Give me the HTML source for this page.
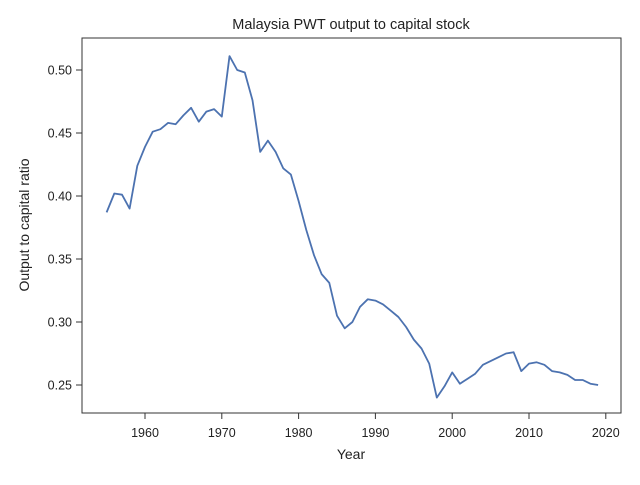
<!DOCTYPE html>
<html><head><meta charset="utf-8"><style>
body{margin:0;background:#fff}
svg text{font-family:"Liberation Sans","DejaVu Sans",sans-serif;fill:#222}
</style></head><body>
<svg id="chart" width="640" height="480" viewBox="0 0 640 480">
<rect width="640" height="480" fill="#fff"/>
<text x="351" y="29" font-size="14.5" text-anchor="middle">Malaysia PWT output to capital stock</text>
<g id="xt"></g><g id="yt"></g>
<path id="line" fill="none" stroke="#4c72b0" stroke-width="1.8" stroke-linejoin="round"/>
<rect x="82" y="38" width="539" height="375" fill="none" stroke="#333" stroke-width="1"/>
<text x="351" y="459" font-size="14" text-anchor="middle">Year</text>
<text transform="translate(29,225) rotate(-90)" font-size="14" text-anchor="middle">Output to capital ratio</text>
</svg>
<script>
const years=[];for(let y=1955;y<=2019;y++)years.push(y);
const values=[0.387,0.402,0.401,0.390,0.424,0.439,0.451,0.453,0.458,0.457,0.464,0.470,0.459,0.467,0.469,0.463,0.511,0.500,0.498,0.476,0.435,0.444,0.435,0.422,0.417,0.396,0.373,0.353,0.338,0.331,0.305,0.295,0.300,0.312,0.318,0.317,0.314,0.309,0.304,0.296,0.286,0.279,0.267,0.240,0.249,0.260,0.251,0.255,0.259,0.266,0.269,0.272,0.275,0.276,0.261,0.267,0.268,0.266,0.261,0.260,0.258,0.254,0.254,0.251,0.250];
const xTicks=[1960,1970,1980,1990,2000,2010,2020];
const yTicks=[0.25,0.30,0.35,0.40,0.45,0.50];
const xs=v=>145+(v-1960)*7.68;
const ys=v=>70+(0.5-v)*1260;
const NS='http://www.w3.org/2000/svg';
let d='';values.forEach((v,i)=>{d+=(i?'L':'M')+xs(years[i]).toFixed(1)+','+ys(v).toFixed(1);});
document.getElementById('line').setAttribute('d',d);
const xt=document.getElementById('xt'),yt=document.getElementById('yt');
xTicks.forEach(t=>{
 const l=document.createElementNS(NS,'line');
 l.setAttribute('x1',xs(t));l.setAttribute('x2',xs(t));l.setAttribute('y1',413);l.setAttribute('y2',419);l.setAttribute('stroke','#333');
 
 
 xt.appendChild(l);
 const s=document.createElementNS(NS,'text');
 s.setAttribute('x',xs(t));s.setAttribute('y',437);s.setAttribute('font-size','12.5');s.setAttribute('text-anchor','middle');s.textContent=t;
 
 
 xt.appendChild(s);
});
yTicks.forEach(t=>{
 const l=document.createElementNS(NS,'line');
 l.setAttribute('x1',76);l.setAttribute('x2',82);l.setAttribute('y1',ys(t));l.setAttribute('y2',ys(t));l.setAttribute('stroke','#333');
 
 
 yt.appendChild(l);
 const s=document.createElementNS(NS,'text');
 s.setAttribute('x',72);s.setAttribute('y',ys(t)+4.5);s.setAttribute('font-size','12.5');s.setAttribute('text-anchor','end');s.textContent=t.toFixed(2);
 
 
 yt.appendChild(s);
});
</script>
</body></html>
